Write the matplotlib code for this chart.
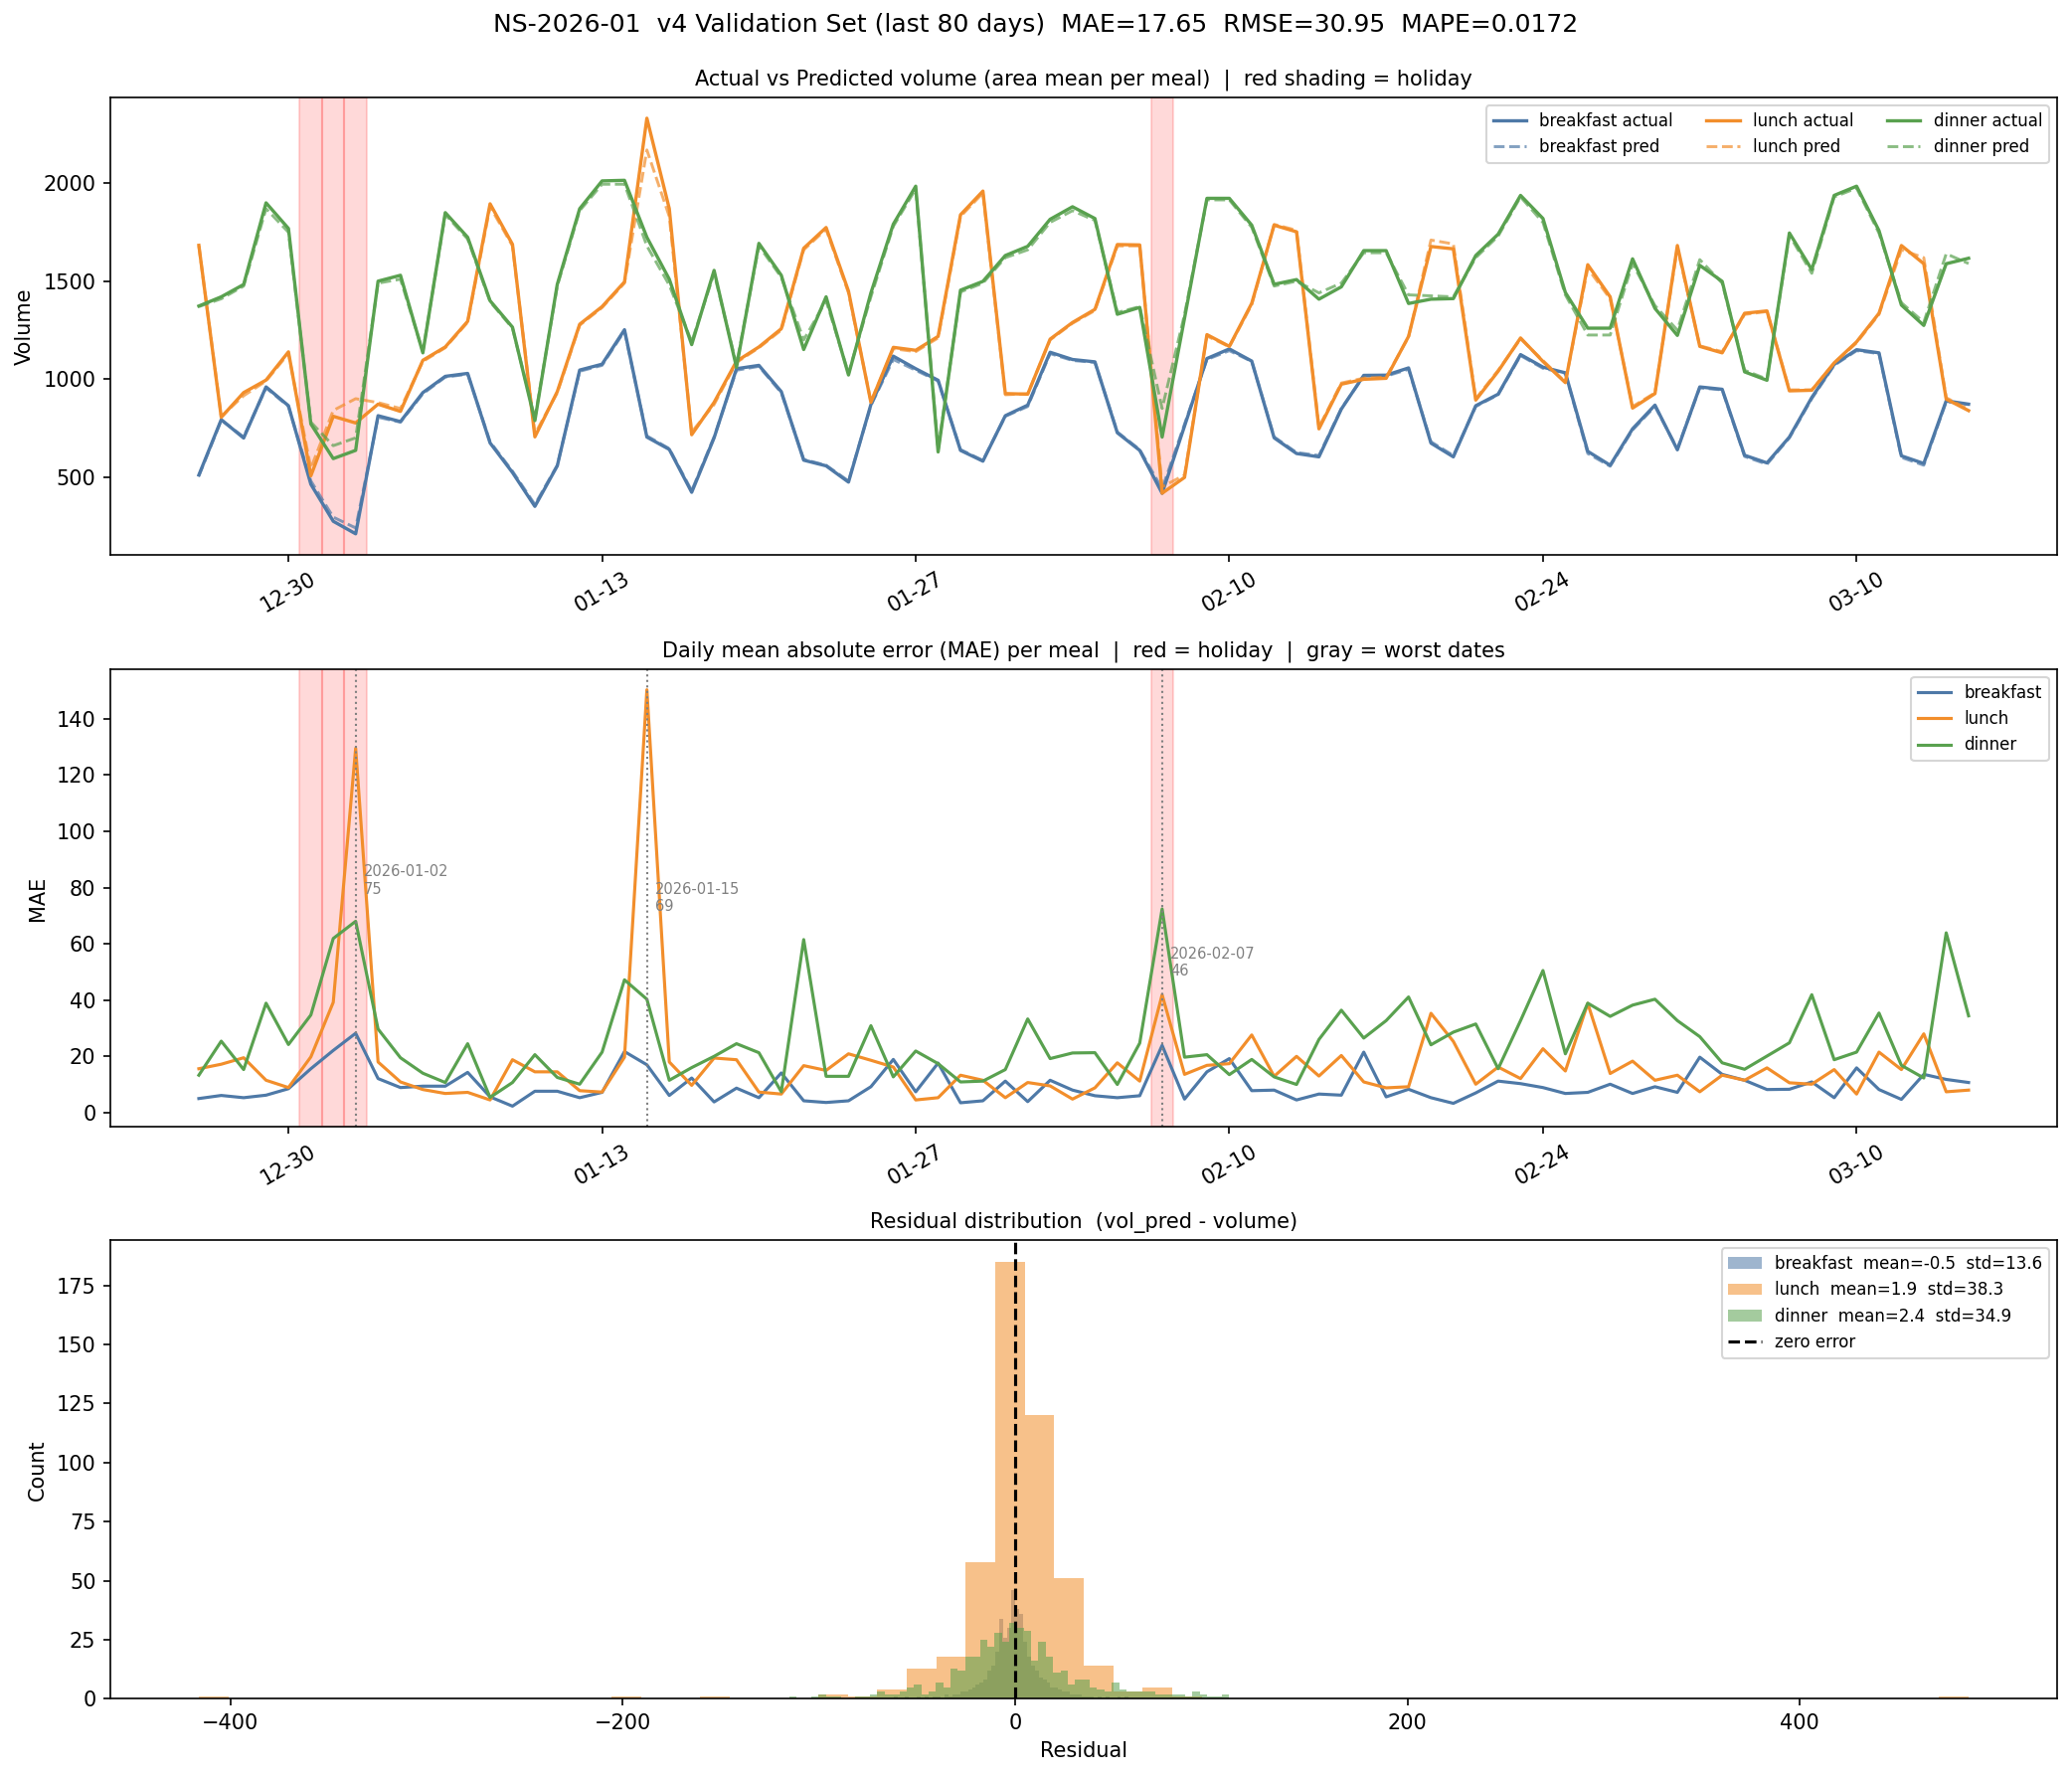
import numpy as np
import pandas as pd
import matplotlib
matplotlib.use("Agg")
import matplotlib.pyplot as plt
import matplotlib.dates as mdates

# ---------------- data ----------------
start_date = "2025-12-26"
n_days = 80
holidays = ["2025-12-31", "2026-01-01", "2026-01-02", "2026-02-07"]
tick_start, tick_end = "2025-12-30", "2026-03-10"

breakfast_actual = [510, 793, 699, 960, 864, 463, 274, 210, 813, 783,
                    931, 1014, 1029, 674, 523, 350, 557, 1046, 1076, 1252,
                    704, 641, 422, 700, 1053, 1070, 936, 586, 557, 474,
                    870, 1117, 1053, 994, 636, 581, 813, 867, 1137, 1100,
                    1088, 726, 636, 417, 760, 1105, 1154, 1092, 700, 620,
                    603, 847, 1019, 1020, 1057, 673, 603, 864, 923, 1125,
                    1061, 1032, 631, 560, 746, 867, 639, 960, 948, 611,
                    572, 704, 906, 1075, 1150, 1134, 608, 569, 889, 872]
breakfast_pred = [505, 790, 705, 955, 860, 480, 295, 240, 805, 780,
                  925, 1010, 1025, 680, 530, 360, 560, 1040, 1070, 1245,
                  710, 645, 430, 705, 1045, 1065, 930, 590, 560, 480,
                  865, 1100, 1045, 990, 640, 585, 810, 860, 1130, 1095,
                  1085, 730, 640, 440, 770, 1100, 1145, 1090, 705, 625,
                  610, 850, 1015, 1015, 1050, 680, 610, 860, 920, 1120,
                  1055, 1030, 620, 555, 740, 860, 645, 955, 945, 605,
                  565, 700, 900, 1070, 1145, 1130, 600, 560, 885, 870]
lunch_actual = [1683, 805, 931, 995, 1139, 506, 810, 776, 872, 835,
                1096, 1164, 1295, 1895, 1688, 705, 936, 1280, 1370, 1496,
                2332, 1870, 716, 881, 1091, 1164, 1257, 1668, 1774, 1449,
                881, 1162, 1147, 1218, 1839, 1960, 926, 923, 1204, 1289,
                1356, 1687, 1685, 417, 498, 1227, 1167, 1387, 1786, 1752,
                746, 974, 999, 1004, 1218, 1677, 1665, 893, 1040, 1210,
                1090, 982, 1584, 1420, 852, 926, 1682, 1167, 1134, 1336,
                1348, 940, 943, 1083, 1190, 1336, 1682, 1589, 898, 839]
lunch_pred = [1680, 810, 915, 990, 1130, 545, 840, 900, 880, 850,
              1090, 1160, 1290, 1880, 1680, 720, 930, 1275, 1365, 1490,
              2170, 1830, 730, 870, 1085, 1160, 1250, 1660, 1765, 1440,
              885, 1155, 1140, 1210, 1830, 1950, 920, 925, 1200, 1285,
              1350, 1680, 1680, 450, 510, 1220, 1165, 1380, 1790, 1760,
              755, 980, 1005, 1010, 1215, 1710, 1690, 900, 1045, 1205,
              1095, 985, 1565, 1410, 860, 930, 1670, 1170, 1140, 1330,
              1345, 945, 945, 1080, 1185, 1330, 1660, 1620, 905, 845]
dinner_actual = [1373, 1420, 1483, 1900, 1769, 771, 594, 636, 1500, 1530,
                 1134, 1850, 1724, 1400, 1265, 788, 1484, 1870, 2012, 2015,
                 1724, 1510, 1176, 1555, 1060, 1693, 1530, 1151, 1420, 1021,
                 1440, 1791, 1985, 628, 1454, 1499, 1631, 1678, 1816, 1880,
                 1820, 1331, 1366, 704, 1311, 1923, 1923, 1786, 1484, 1508,
                 1408, 1471, 1656, 1656, 1386, 1408, 1411, 1631, 1740, 1938,
                 1820, 1442, 1260, 1260, 1614, 1361, 1223, 1581, 1499, 1037,
                 994, 1746, 1559, 1938, 1985, 1758, 1378, 1274, 1589, 1617]
dinner_pred = [1370, 1410, 1475, 1870, 1750, 780, 660, 700, 1490, 1510,
               1140, 1840, 1715, 1395, 1260, 800, 1475, 1860, 1995, 1995,
               1680, 1480, 1190, 1540, 1075, 1680, 1520, 1200, 1400, 1030,
               1420, 1780, 1970, 640, 1445, 1490, 1620, 1660, 1800, 1860,
               1810, 1340, 1370, 850, 1330, 1915, 1915, 1775, 1475, 1500,
               1440, 1490, 1645, 1645, 1430, 1425, 1420, 1620, 1730, 1930,
               1800, 1430, 1225, 1225, 1590, 1375, 1250, 1610, 1490, 1045,
               1000, 1735, 1540, 1930, 1975, 1745, 1390, 1290, 1640, 1590]

mae_breakfast = [5.0, 6.1, 5.3, 6.2, 8.5, 15.6, 22.1, 28.2, 12.1, 8.9,
                 9.4, 9.4, 14.3, 5.6, 2.3, 7.6, 7.6, 5.3, 7.2, 21.7,
                 17.0, 6.1, 12.3, 3.8, 8.7, 5.3, 14.1, 4.2, 3.6, 4.2,
                 9.2, 18.9, 7.4, 17.6, 3.5, 4.2, 11.2, 3.9, 11.5, 8.0,
                 6.0, 5.3, 6.0, 23.9, 4.8, 14.5, 19.2, 7.8, 8.0, 4.5,
                 6.6, 6.2, 21.5, 5.6, 8.3, 5.3, 3.3, 7.0, 11.2, 10.3,
                 8.9, 6.8, 7.2, 10.1, 6.8, 9.2, 7.2, 19.7, 13.6, 11.5,
                 8.2, 8.3, 10.9, 5.3, 15.9, 8.2, 4.7, 13.6, 11.8, 10.7]
mae_lunch = [15.6, 17.2, 19.5, 11.5, 8.9, 19.8, 39.2, 129.5, 18.0, 10.9,
             8.2, 6.8, 7.2, 4.5, 18.8, 14.5, 14.5, 7.8, 7.3, 19.7,
             150.3, 18.0, 9.7, 19.4, 18.8, 7.3, 6.6, 16.7, 15.0, 20.9,
             18.6, 16.2, 4.5, 5.3, 13.3, 11.5, 5.3, 10.7, 9.5, 4.8,
             8.8, 17.7, 11.2, 41.9, 13.6, 16.8, 17.4, 27.6, 12.9, 20.0,
             13.0, 20.3, 10.9, 8.8, 9.2, 35.3, 25.3, 10.1, 16.2, 12.1,
             22.7, 14.8, 38.8, 13.9, 18.3, 11.5, 13.3, 7.4, 13.3, 11.5,
             15.9, 10.6, 10.1, 15.3, 6.6, 21.5, 15.3, 28.0, 7.4, 8.0]
mae_dinner = [13.3, 25.4, 15.3, 38.9, 24.2, 34.7, 61.9, 68.0, 29.7, 19.5,
              14.0, 10.7, 24.5, 5.4, 10.7, 20.6, 12.5, 10.1, 21.5, 47.2,
              40.3, 11.5, 16.0, 20.0, 24.5, 21.3, 7.4, 61.5, 12.9, 12.9,
              30.9, 12.7, 21.9, 17.4, 10.9, 11.2, 15.3, 33.3, 19.2, 21.2,
              21.3, 10.0, 24.7, 72.4, 19.7, 20.6, 13.5, 18.9, 12.7, 10.0,
              26.0, 36.4, 26.5, 32.7, 41.1, 24.1, 28.6, 31.5, 15.6, 32.7,
              50.5, 20.9, 38.9, 34.2, 38.2, 40.3, 32.7, 27.0, 17.7, 15.4,
              20.1, 24.8, 41.9, 18.8, 21.5, 35.4, 16.8, 12.3, 63.9, 34.4]

# residual histograms: 60 bins over [lo, hi] per meal
breakfast_range = (-62, 58)
breakfast_counts = [1, 0, 0, 1, 0, 0, 1, 0, 1, 0,
                    1, 1, 0, 2, 1, 2, 2, 3, 3, 4,
                    5, 6, 7, 8, 12, 14, 20, 34, 26, 30,
                    46, 38, 36, 24, 18, 14, 12, 9, 8, 7,
                    5, 5, 4, 3, 3, 2, 2, 2, 1, 1,
                    1, 0, 1, 0, 1, 0, 0, 1, 0, 1]
lunch_range = (-416, 486)
lunch_counts = [1, 0, 0, 0, 0, 0, 0, 0, 0, 0,
                0, 0, 0, 0, 1, 0, 0, 1, 0, 0,
                0, 2, 1, 4, 13, 18, 58, 185, 120, 51,
                14, 3, 5, 1, 0, 0, 0, 0, 0, 0,
                0, 0, 0, 0, 0, 0, 0, 0, 0, 0,
                0, 0, 0, 0, 0, 0, 0, 0, 0, 1]
dinner_range = (-115, 109)
dinner_counts = [1, 0, 0, 1, 2, 1, 1, 0, 0, 1,
                 1, 2, 3, 2, 2, 3, 5, 6, 2, 3,
                 7, 5, 13, 12, 18, 18, 25, 22, 28, 24,
                 32, 30, 29, 16, 24, 18, 11, 12, 6, 8,
                 8, 5, 4, 3, 7, 4, 3, 3, 3, 3,
                 2, 2, 2, 2, 1, 3, 2, 1, 1, 2]
hist_labels = ["breakfast  mean=-0.5  std=13.6",
               "lunch  mean=1.9  std=38.3",
               "dinner  mean=2.4  std=34.9"]

suptitle = "NS-2026-01  v4 Validation Set (last 80 days)  MAE=17.65  RMSE=30.95  MAPE=0.0172"

# ---------------- styling ----------------
C_B, C_L, C_D = "#4e79a7", "#f28e2b", "#59a14f"
meals = ["breakfast", "lunch", "dinner"]
colors = [C_B, C_L, C_D]

dates = pd.date_range(start_date, periods=n_days, freq="D")
hol = pd.to_datetime(holidays)
ticks = pd.date_range(tick_start, tick_end, freq="14D")
half = pd.Timedelta(hours=12)

W, H, DPI = 2084, 1787, 150
fig = plt.figure(figsize=(W / DPI, H / DPI), dpi=DPI)
left, width = 111 / W, (2069 - 111) / W
ax1 = fig.add_axes([left, 1 - 557.7 / H, width, (557.7 - 98) / H])
ax2 = fig.add_axes([left, 1 - 1133.3 / H, width, (1133.3 - 672.7) / H])
ax3 = fig.add_axes([left, 1 - 1708.4 / H, width, (1708.4 - 1247) / H])

fig.suptitle(suptitle, fontsize=12, y=1 - 25 / H, va="center")

# ---- panel 1 ----
actuals = [breakfast_actual, lunch_actual, dinner_actual]
preds = [breakfast_pred, lunch_pred, dinner_pred]
for h in hol:
    ax1.axvspan(h - half, h + half, color="red", alpha=0.15)
for m, c, a, p in zip(meals, colors, actuals, preds):
    ax1.plot(dates, a, color=c, lw=1.6, label=f"{m} actual")
    ax1.plot(dates, p, color=c, lw=1.4, ls="--", alpha=0.7, label=f"{m} pred")
ax1.set_title("Actual vs Predicted volume (area mean per meal)  |  red shading = holiday", fontsize=10)
ax1.set_ylabel("Volume")
ax1.legend(ncol=3, loc="upper right", fontsize=8)

# ---- panel 2 ----
maes = [mae_breakfast, mae_lunch, mae_dinner]
for h in hol:
    ax2.axvspan(h - half, h + half, color="red", alpha=0.15)
for m, c, v in zip(meals, colors, maes):
    ax2.plot(dates, v, color=c, lw=1.5, label=m)
daily_mean = np.mean(np.array(maes), axis=0)
worst = np.argsort(daily_mean)[::-1][:3]
for i in sorted(worst):
    d = dates[i]
    ax2.axvline(d, color="gray", ls=":", lw=1)
    ax2.annotate(f"{d:%Y-%m-%d}\n{daily_mean[i]:.0f}", xy=(d, daily_mean[i]),
                 xytext=(4, 2), textcoords="offset points",
                 fontsize=7, color="gray", va="bottom", ha="left")
ax2.set_title("Daily mean absolute error (MAE) per meal  |  red = holiday  |  gray = worst dates", fontsize=10)
ax2.set_ylabel("MAE")
ax2.legend(loc="upper right", fontsize=8)

for ax in (ax1, ax2):
    ax.set_xticks(ticks)
    ax.xaxis.set_major_formatter(mdates.DateFormatter("%m-%d"))
    ax.tick_params(axis="x", labelrotation=30)

# ---- panel 3 ----
ranges = [breakfast_range, lunch_range, dinner_range]
counts = [breakfast_counts, lunch_counts, dinner_counts]
for c, r, n, lab in zip(colors, ranges, counts, hist_labels):
    edges = np.linspace(r[0], r[1], len(n) + 1)
    centers = (edges[:-1] + edges[1:]) / 2
    ax3.hist(centers, bins=edges, weights=n, color=c, alpha=0.55, label=lab)
ax3.axvline(0, color="black", ls="--", lw=1.5, label="zero error")
ax3.set_title("Residual distribution  (vol_pred - volume)", fontsize=10)
ax3.set_xlabel("Residual")
ax3.set_ylabel("Count")
ax3.legend(loc="upper right", fontsize=8)

fig.savefig("out.png", dpi=DPI)
